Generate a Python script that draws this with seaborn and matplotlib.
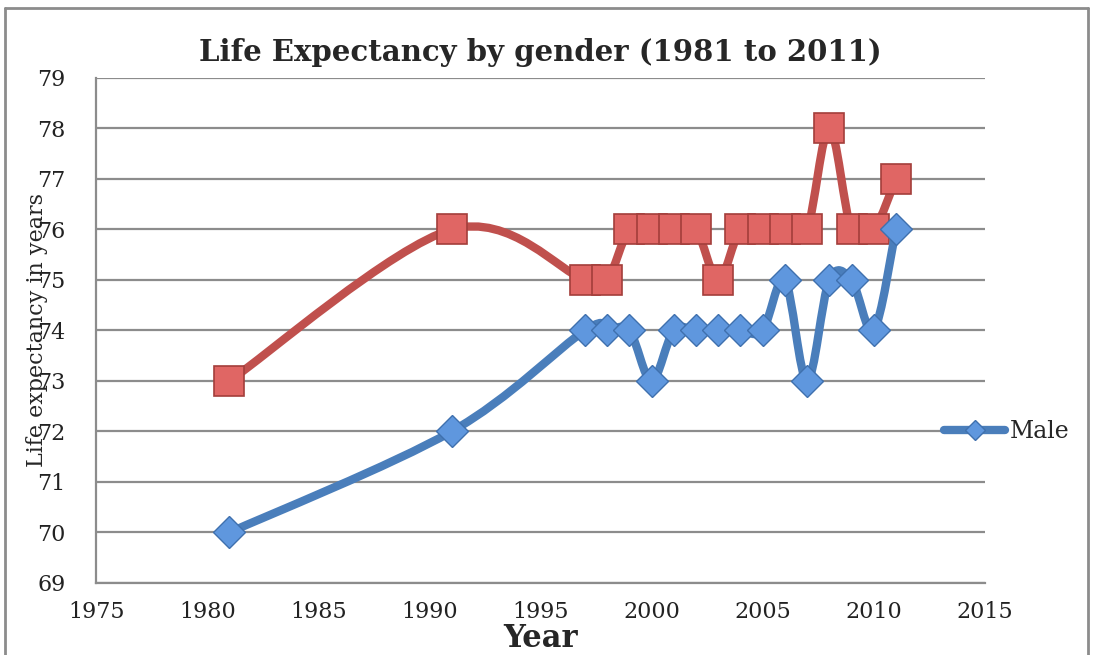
import matplotlib
matplotlib.use("Agg")
import matplotlib.pyplot as plt
import numpy as np
import pandas as pd
import seaborn as sns
from matplotlib.path import Path
from matplotlib.patches import PathPatch
from matplotlib.lines import Line2D

# ---------------------------------------------------------------------------
# Data
# ---------------------------------------------------------------------------
years = [1981, 1991, 1997, 1998, 1999, 2000, 2001, 2002, 2003,
         2004, 2005, 2006, 2007, 2008, 2009, 2010, 2011]
male = [70, 72, 74, 74, 74, 73, 74, 74, 74, 74, 74, 75, 73, 75, 75, 74, 76]
female = [73, 76, 75, 75, 76, 76, 76, 76, 75, 76, 76, 76, 76, 78, 76, 76, 77]

df = pd.DataFrame({"Year": years, "Male": male, "Female": female})


def smooth_path(x, y):
    """Excel-like smoothed line: cubic Bezier segments through the points."""
    pts = np.column_stack([x, y]).astype(float)
    n = len(pts)
    verts = [pts[0]]
    codes = [Path.MOVETO]
    for i in range(n - 1):
        p_prev = pts[max(i - 1, 0)]
        p0, p1 = pts[i], pts[i + 1]
        p_next = pts[min(i + 2, n - 1)]
        c1 = p0 + (p1 - p_prev) / 6.0
        c2 = p1 - (p_next - p0) / 6.0
        verts += [c1, c2, p1]
        codes += [Path.CURVE4] * 3
    return Path(verts, codes)


sns.set_style("white")
plt.rcParams["font.family"] = ["DejaVu Serif"]

fig, ax = plt.subplots(figsize=(10.93, 6.55), dpi=100)
fig.subplots_adjust(left=0.088, right=0.901, top=0.881, bottom=0.110)

RED, RED_FILL, RED_EDGE = "#C0504D", "#E06664", "#A33E3B"
BLUE, BLUE_FILL, BLUE_EDGE = "#4A7EBB", "#5F97DE", "#3F70AE"

# Female (red squares)
ax.add_patch(PathPatch(smooth_path(df["Year"], df["Female"]), fill=False,
                       edgecolor=RED, lw=6, capstyle="round",
                       joinstyle="round", zorder=2))
sns.lineplot(data=df, x="Year", y="Female", ax=ax, linestyle="",
             marker="s", markersize=22, markerfacecolor=RED_FILL,
             markeredgecolor=RED_EDGE, markeredgewidth=1.2, zorder=3)

# Male (blue diamonds)
ax.add_patch(PathPatch(smooth_path(df["Year"], df["Male"]), fill=False,
                       edgecolor=BLUE, lw=6, capstyle="round",
                       joinstyle="round", zorder=4))
sns.lineplot(data=df, x="Year", y="Male", ax=ax, linestyle="",
             marker="D", markersize=16, markerfacecolor=BLUE_FILL,
             markeredgecolor=BLUE_EDGE, markeredgewidth=1.0, zorder=5)

ax.set_xlim(1975, 2015)
ax.set_ylim(69, 79)
ax.set_xticks(range(1975, 2016, 5))
ax.set_yticks(range(69, 80))
ax.tick_params(axis="both", length=0, labelsize=16, colors="#222222")
ax.tick_params(axis="y", pad=22)
ax.tick_params(axis="x", pad=13)

ax.grid(axis="y", color="#8C8C8C", lw=1.6)
ax.grid(axis="x", visible=False)
for side in ["top", "right"]:
    ax.spines[side].set_visible(False)
for side in ["left", "bottom"]:
    ax.spines[side].set_color("#8C8C8C")
    ax.spines[side].set_linewidth(1.6)

ax.set_title("Life Expectancy by gender (1981 to 2011)", fontsize=21,
             fontweight="bold", pad=12)
ax.set_xlabel("Year", fontsize=22, fontweight="bold", labelpad=0)
ax.set_ylabel("Life expectancy in years", fontsize=16)
ax.yaxis.set_label_coords(-0.054, 0.5)

handle = Line2D([], [], color=BLUE, lw=6, marker="D", markersize=10,
                markerfacecolor=BLUE_FILL, markeredgecolor=BLUE_EDGE,
                solid_capstyle="round")
ax.legend([handle], ["Male"], loc="center left", frameon=False,
          bbox_to_anchor=(0.93, 0.30), fontsize=17, handlelength=2.6,
          handletextpad=0.2)

# outer chart border
for xs, ys in [([0.005, 0.005], [0.0, 0.988]),
               ([0.005, 0.995], [0.988, 0.988]),
               ([0.995, 0.995], [0.0, 0.988])]:
    fig.add_artist(Line2D(xs, ys, transform=fig.transFigure,
                          color="#8C8C8C", lw=2))

fig.savefig("out.png", dpi=100)
